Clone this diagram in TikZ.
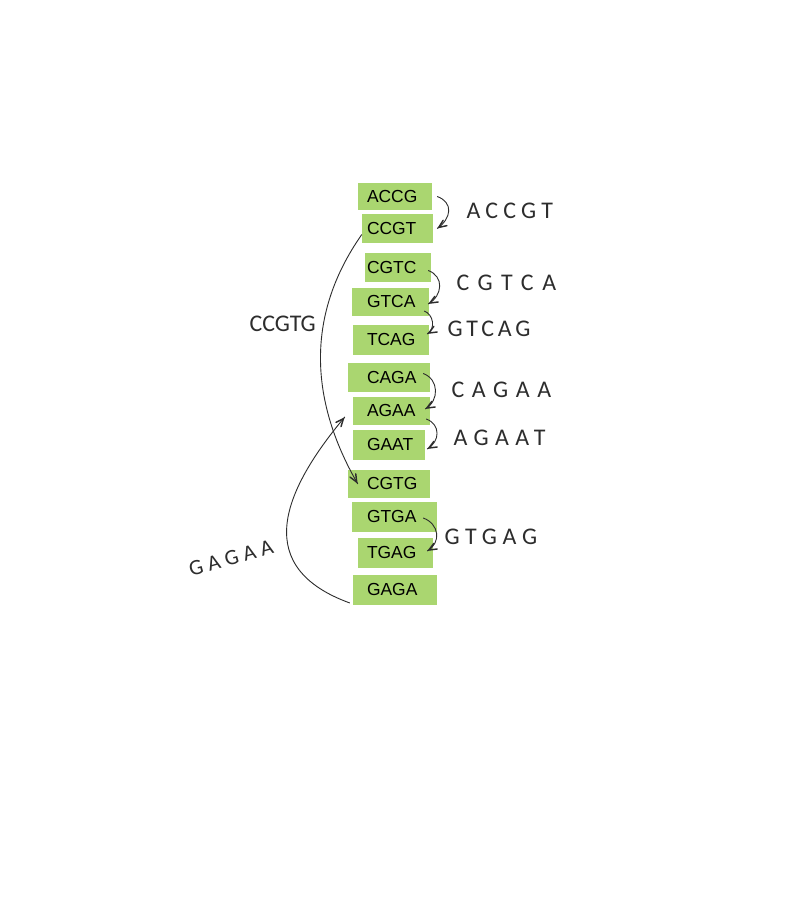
\documentclass[tikz,border=0pt]{standalone}
\usepackage{fontspec}
\newfontfamily\kmerfont{Liberation Sans}
\newfontfamily\handfont{Carlito}
\usetikzlibrary{arrows,decorations.markings}

\definecolor{kmergreen}{RGB}{170,214,112}
\definecolor{pen}{RGB}{45,45,45}

\begin{document}
\begin{tikzpicture}
% define arrow head and styles
[
    x=1bp,y=1bp,
    decoration={
      markings,
      mark=at position 0.999 with {\arrow[scale=1.6,pen]{angle 45}};
    },
    kmer/.style={fill=kmergreen, inner xsep=0pt, inner ysep=0pt, align=left,
      font=\kmerfont\fontsize{17.5}{20}\selectfont},
    hand/.style={anchor=west, text=pen, font=\handfont\fontsize{24}{26}\selectfont},
    link/.style={pen, line width=0.9bp, postaction={decorate}}
]

% page
\fill[white] (0,0) rectangle (790,916);
\useasboundingbox (0,0) rectangle (790,916);

% k-mers
\node[kmer, minimum width=74bp, minimum height=27bp, text width=56bp] (accg) at (395,719.5) {ACCG};
\node[kmer, minimum width=71bp, minimum height=29bp, text width=61bp] (ccgt) at (397.5,687.5) {CCGT};
\node[kmer, minimum width=66bp, minimum height=29bp, text width=62bp] (cgtc) at (398,648.5) {CGTC};
\node[kmer, minimum width=77bp, minimum height=28bp, text width=47bp] (gtca) at (390.5,614) {GTCA};
\node[kmer, minimum width=76bp, minimum height=30bp, text width=48bp] (tcag) at (391,576) {TCAG};
\node[kmer, minimum width=82bp, minimum height=29bp, text width=44bp] (caga) at (389,538.5) {CAGA};
\node[kmer, minimum width=77bp, minimum height=28bp, text width=49bp] (agaa) at (391.5,505) {AGAA};
\node[kmer, minimum width=72bp, minimum height=30bp, text width=44bp] (gaat) at (389,471) {GAAT};
\node[kmer, minimum width=82bp, minimum height=28bp, text width=44bp] (cgtg) at (389,432) {CGTG};
\node[kmer, minimum width=85bp, minimum height=30bp, text width=55bp] (gtga) at (394.5,399) {GTGA};
\node[kmer, minimum width=75bp, minimum height=30bp, text width=57bp] (tgag) at (395.5,363) {TGAG};
\node[kmer, minimum width=84bp, minimum height=30bp, text width=56bp] (gaga) at (395,326) {GAGA};

% overlaps
\draw[link] ([xshift=5bp]accg.east) to[out=-20,in=35,looseness=1.4] ([xshift=4bp]ccgt.east);
\draw[link] ([xshift=-3bp,yshift=-3bp]cgtc.east) to[out=-20,in=30,looseness=1.3] ([xshift=-1bp,yshift=-2bp]gtca.east);
\draw[link] ([xshift=-5bp,yshift=-9bp]gtca.east) to[out=-20,in=30,looseness=1.1] ([xshift=-2bp,yshift=6bp]tcag.east);
\draw[link] ([xshift=-7bp,yshift=4bp]caga.east) to[out=-20,in=30,looseness=1.2] ([xshift=-5bp,yshift=2bp]agaa.east);
\draw[link] ([xshift=-4bp,yshift=-8bp]agaa.east) to[out=-20,in=30,looseness=1.3] ([xshift=2bp,yshift=-4bp]gaat.east);
\draw[link] ([xshift=-14bp,yshift=-1bp]gtga.east) to[out=-20,in=30,looseness=1.3] ([xshift=-6bp,yshift=2bp]tgag.east);

% jumps
\draw[link] ([yshift=-6bp]ccgt.west) to[out=235,in=120] ([xshift=10bp]cgtg.west);
\draw[link] ([xshift=-3bp,yshift=-13bp]gaga.west) to[out=160,in=230,looseness=1.4] ([xshift=-8bp,yshift=-6bp]agaa.west);

% handwritten labels
\node[hand] (accgt) at (463,705) {\addfontfeatures{LetterSpace=22}ACCGT};
\node[hand] (cgtca) at (453,633) {\addfontfeatures{LetterSpace=36}CGTCA};
\node[hand] (gtcag) at (444,587) {\addfontfeatures{LetterSpace=16}GTCAG};
\node[hand] (cagaa) at (448,526) {\addfontfeatures{LetterSpace=32}CAGAA};
\node[hand] (agaat) at (450,478) {\addfontfeatures{LetterSpace=27}AGAAT};
\node[hand] (gtgag) at (441,379) {\addfontfeatures{LetterSpace=24}GTGAG};
\node[hand] (ccgtg) at (246,592) {CCGTG};
\node[hand, anchor=center, rotate=16, font=\handfont\fontsize{22}{24}\selectfont] (gagaa) at (231,358) {\addfontfeatures{LetterSpace=24}GAGAA};

\end{tikzpicture}
\end{document}
